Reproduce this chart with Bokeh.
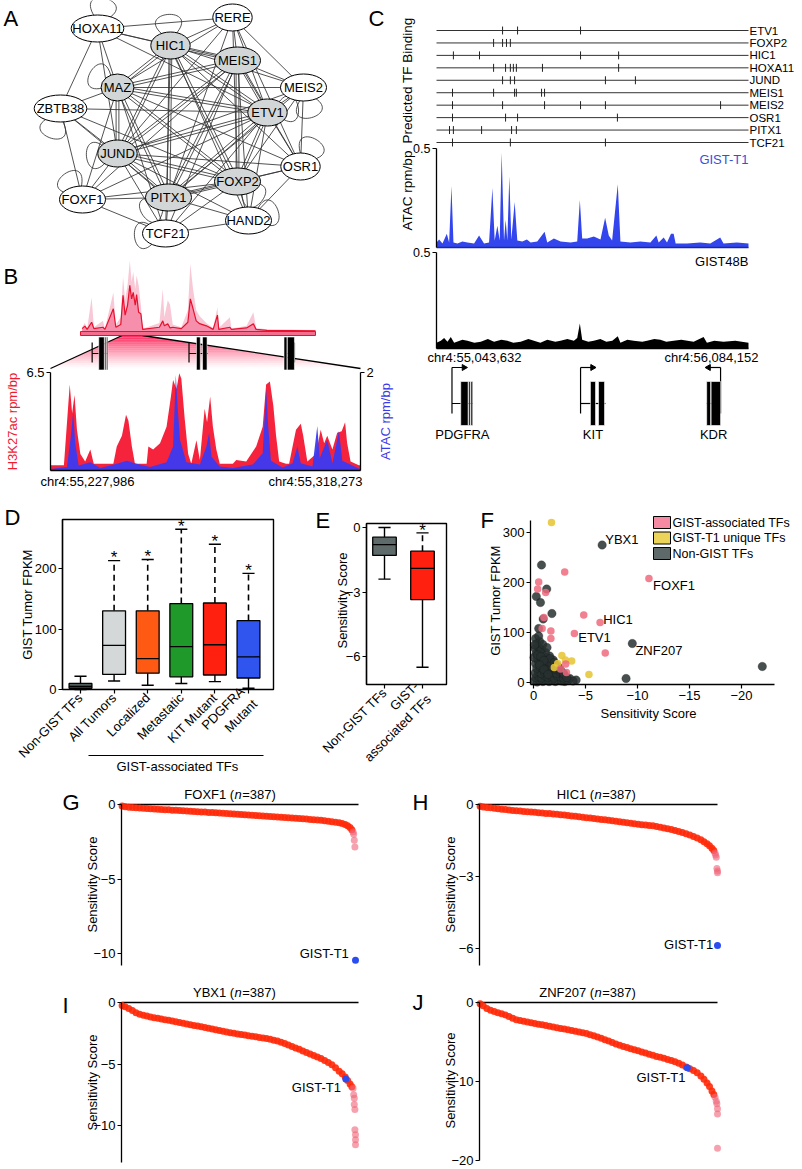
import numpy as np
from bokeh.plotting import figure
from bokeh.models import Range1d, LinearAxis, FixedTicker, Label
from bokeh.layouts import row, column
from bokeh.embed import file_html
from bokeh.resources import INLINE
from bokeh.core.properties import value

FONT = "Liberation Sans"

# ================= DATA =================
# --- A: TF network (layout positions of nodes) ---
node_names = ["HOXA11", "RERE", "HIC1", "MEIS1", "MAZ", "MEIS2", "ZBTB38", "ETV1",
              "JUND", "OSR1", "FOXP2", "FOXF1", "PITX1", "HAND2", "TCF21"]
node_x = [97, 232, 170, 237, 117, 303, 60, 267, 117, 300, 237, 82, 168, 248, 165]
node_y = [28, 17, 45, 60, 87, 87, 108, 112, 153, 166, 181, 199, 197, 220, 233]
node_core = [0, 0, 1, 1, 1, 0, 0, 1, 1, 0, 1, 0, 1, 0, 0]
edges = [
    ("HOXA11", "RERE"), ("HOXA11", "HIC1"), ("HOXA11", "MEIS1"), ("HOXA11", "MAZ"), ("HOXA11", "JUND"),
    ("HOXA11", "ZBTB38"), ("HOXA11", "ETV1"),
    ("RERE", "HIC1"), ("RERE", "MEIS1"), ("RERE", "MAZ"), ("RERE", "ETV1"), ("RERE", "PITX1"),
    ("RERE", "FOXP2"), ("RERE", "JUND"), ("RERE", "MEIS2"), ("RERE", "OSR1"),
    ("HIC1", "MEIS1"), ("HIC1", "MAZ"), ("HIC1", "ETV1"), ("HIC1", "JUND"), ("HIC1", "FOXP2"),
    ("HIC1", "PITX1"), ("HIC1", "MEIS2"), ("HIC1", "OSR1"), ("HIC1", "TCF21"), ("HIC1", "HAND2"),
    ("MEIS1", "MAZ"), ("MEIS1", "ETV1"), ("MEIS1", "JUND"), ("MEIS1", "FOXP2"), ("MEIS1", "PITX1"),
    ("MEIS1", "MEIS2"), ("MEIS1", "OSR1"), ("MEIS1", "FOXF1"), ("MEIS1", "TCF21"), ("MEIS1", "HAND2"),
    ("MAZ", "ETV1"), ("MAZ", "JUND"), ("MAZ", "FOXP2"), ("MAZ", "PITX1"), ("MAZ", "MEIS2"),
    ("MAZ", "ZBTB38"), ("MAZ", "OSR1"), ("MAZ", "TCF21"), ("MAZ", "FOXF1"),
    ("ETV1", "JUND"), ("ETV1", "FOXP2"), ("ETV1", "PITX1"), ("ETV1", "MEIS2"), ("ETV1", "OSR1"),
    ("ETV1", "FOXF1"), ("ETV1", "TCF21"), ("ETV1", "HAND2"), ("ETV1", "ZBTB38"),
    ("JUND", "FOXP2"), ("JUND", "PITX1"), ("JUND", "ZBTB38"), ("JUND", "OSR1"), ("JUND", "FOXF1"),
    ("JUND", "TCF21"), ("JUND", "HAND2"), ("JUND", "MEIS2"),
    ("FOXP2", "PITX1"), ("FOXP2", "OSR1"), ("FOXP2", "HAND2"), ("FOXP2", "TCF21"), ("FOXP2", "FOXF1"),
    ("FOXP2", "MEIS2"), ("FOXP2", "ZBTB38"),
    ("PITX1", "FOXF1"), ("PITX1", "TCF21"), ("PITX1", "HAND2"), ("PITX1", "OSR1"), ("PITX1", "ZBTB38"),
    ("PITX1", "MEIS2"),
    ("FOXF1", "TCF21"), ("TCF21", "HAND2"), ("MEIS2", "OSR1"), ("OSR1", "HAND2"), ("ZBTB38", "FOXF1"),
]
loop_nodes = ["HOXA11", "HIC1", "MAZ", "ZBTB38", "JUND", "FOXF1", "PITX1", "TCF21",
              "HAND2", "FOXP2", "OSR1", "ETV1", "MEIS2"]
loop_dirs = [75, 95, 150, 250, 185, 125, 215, 185, 20, 320, 60, 10, 285]

# --- genes (hg19, bp) ---
gene_names = ["PDGFRA", "KIT", "KDR"]
gene_tss = [55095264, 55524085, 55991000]
gene_end = [55164414, 55606881, 55944644]
gene_strand = [1, 1, -1]
gene_exons = [
    [(55124500, 55149000), (55151000, 55156500), (55158500, 55164400)],
    [(55557000, 55574000), (55584000, 55604000)],
    [(55944644, 55958000), (55959500, 55991000)],
]

# --- B: H3K27ac / ATAC ---
B_REGION = (55227986, 55318273)
overview_pos = [55.051, 55.063, 55.073, 55.093, 55.103, 55.143, 55.152, 55.189, 55.200, 55.222,
                55.232, 55.241, 55.252, 55.262, 55.270, 55.277, 55.286, 55.292, 55.301, 55.311,
                55.319, 55.393, 55.408, 55.415, 55.430, 55.440, 55.452, 55.490, 55.519, 55.530,
                55.542, 55.556, 55.571, 55.601, 55.631, 55.650, 55.656, 55.705, 55.712, 55.779,
                55.809, 55.821, 55.869, 56.084]
overview_mean = [0.04, 0.075, 0.03, 0.13, 0.04, 0.06, 0.03, 0.32, 0.06, 0.10,
                 0.51, 0.23, 0.37, 0.65, 0.46, 0.55, 0.37, 0.52, 0.27, 0.25,
                 0.03, 0.06, 0.15, 0.08, 0.11, 0.05, 0.06, 0.04, 0.13, 0.46,
                 0.32, 0.15, 0.11, 0.08, 0.03, 0.23, 0.03, 0.06, 0.03, 0.05,
                 0.11, 0.03, 0.015, 0.01]
overview_env = [0.06, 0.12, 0.04, 0.48, 0.06, 0.15, 0.04, 0.55, 0.10, 0.20,
                0.77, 0.45, 0.65, 1.00, 0.70, 0.84, 0.60, 0.79, 0.65, 0.37,
                0.04, 0.12, 0.60, 0.20, 0.44, 0.38, 0.10, 0.06, 0.30, 0.95,
                0.60, 0.30, 0.22, 0.12, 0.05, 0.34, 0.05, 0.20, 0.04, 0.08,
                0.27, 0.05, 0.03, 0.02]
h3k27ac_detail = [
    (0, 0.35), (3.9, 0.35), (4.3, 1.6), (5.6, 5.7), (6.3, 3.8), (7.0, 5.0), (7.7, 2.7), (8.7, 1.1),
    (10.1, 0.6), (11.6, 1.4), (12.6, 0.45), (18.3, 0.45), (19.3, 1.6), (20.8, 2.3), (22.0, 3.7),
    (22.7, 3.3), (23.7, 1.6), (24.6, 0.45), (28.0, 0.45), (28.5, 1.6), (29.9, 1.4), (31.9, 1.8),
    (33.8, 2.9), (35.0, 4.8), (35.7, 6.0), (36.7, 5.4), (37.5, 6.45), (38.1, 6.1), (39.1, 3.4),
    (40.1, 1.1), (41.0, 0.45), (42.5, 2.0), (43.5, 0.7), (44.9, 4.1), (45.6, 3.2), (46.5, 4.9),
    (47.3, 2.9), (48.3, 1.4), (49.3, 0.45), (53.1, 0.45), (54.1, 0.7), (57.0, 0.6), (59.9, 1.6),
    (61.8, 2.9), (62.8, 5.7), (63.9, 5.9), (64.9, 4.3), (65.7, 2.3), (66.6, 0.6), (68.6, 0.45),
    (69.5, 0.45), (70.5, 1.6), (71.5, 2.7), (72.9, 3.1), (73.6, 2.3), (74.8, 0.6), (77.3, 1.1),
    (78.7, 2.7), (79.7, 1.8), (80.6, 2.3), (82.1, 1.4), (83.5, 2.5), (84.8, 2.6), (85.8, 3.2),
    (86.4, 1.8), (87.4, 0.6), (89.8, 0.35), (90.3, 0.35)]
atac_detail = [
    (0, 0.03), (4.8, 0.07), (5.8, 0.63), (6.6, 1.18), (7.2, 0.56), (8.2, 0.10), (11.6, 0.17),
    (14.5, 0.05), (19.3, 0.14), (22.2, 0.20), (25.1, 0.14), (29.0, 0.07), (33.8, 0.17), (35.7, 0.49),
    (36.5, 1.95), (37.0, 1.32), (37.7, 0.63), (39.6, 0.17), (43.5, 0.12), (45.4, 0.49), (46.2, 0.77),
    (46.9, 0.28), (49.3, 0.08), (53.1, 0.05), (58.9, 0.12), (61.8, 0.35), (62.8, 1.67), (63.4, 0.91),
    (64.2, 0.20), (67.6, 0.06), (70.5, 0.15), (71.9, 0.49), (72.9, 0.15), (76.3, 0.08), (77.7, 0.91),
    (78.4, 0.25), (80.6, 0.63), (82.1, 0.15), (84.0, 0.80), (85.0, 0.20), (89.8, 0.04), (90.3, 0.03)]

# --- C: predicted TF binding & ATAC ---
C_REGION = (55043632, 56084152)
tf_names = ["ETV1", "FOXP2", "HIC1", "HOXA11", "JUND", "MEIS1", "MEIS2", "OSR1", "PITX1", "TCF21"]
tf_sites = [
    [55.264, 55.314, 55.524],
    [55.234, 55.264, 55.277, 55.290],
    [55.100, 55.187, 55.524, 55.651],
    [55.234, 55.274, 55.290, 55.300, 55.310, 55.397, 55.651],
    [55.264, 55.290, 55.304, 55.607, 55.707],
    [55.097, 55.234, 55.304, 55.310, 55.394, 55.404],
    [55.097, 55.264, 55.404, 55.524, 55.607, 55.991],
    [55.097, 55.274, 55.314, 55.647],
    [55.087, 55.100, 55.194, 55.294, 55.310],
    [55.097, 55.290, 55.607],
]
gist_t1_atac = [
    (55.0436, 0.025), (55.0525, 0.04), (55.0636, 0.02), (55.0780, 0.07), (55.0858, 0.025),
    (55.0935, 0.31), (55.1002, 0.025), (55.1135, 0.02), (55.1300, 0.03), (55.1468, 0.025),
    (55.1690, 0.02), (55.1856, 0.06), (55.2022, 0.02), (55.2189, 0.025), (55.2300, 0.30),
    (55.2377, 0.035), (55.2466, 0.11), (55.2544, 0.035), (55.2610, 0.48), (55.2688, 0.035),
    (55.2743, 0.14), (55.2799, 0.035), (55.2865, 0.36), (55.2932, 0.04), (55.3043, 0.23),
    (55.3132, 0.035), (55.3298, 0.03), (55.3450, 0.04), (55.3575, 0.025), (55.3797, 0.03),
    (55.4041, 0.08), (55.4130, 0.025), (55.4352, 0.045), (55.4574, 0.03), (55.4907, 0.025),
    (55.5129, 0.03), (55.5217, 0.24), (55.5295, 0.045), (55.5461, 0.045), (55.5683, 0.055),
    (55.5905, 0.04), (55.6060, 0.15), (55.6182, 0.06), (55.6293, 0.035), (55.6482, 0.32),
    (55.6570, 0.03), (55.6903, 0.025), (55.7236, 0.03), (55.7569, 0.025), (55.7769, 0.06),
    (55.7846, 0.025), (55.8013, 0.05), (55.8124, 0.025), (55.8257, 0.07), (55.8345, 0.07),
    (55.8412, 0.02), (55.8789, 0.02), (55.9233, 0.025), (55.9566, 0.02), (55.9898, 0.05),
    (56.0009, 0.02), (56.0453, 0.025), (56.0841, 0.02)]
gist48b_atac = [
    (55.0436, 0.03), (55.0580, 0.04), (55.0691, 0.055), (55.0802, 0.035), (55.0913, 0.06),
    (55.1024, 0.03), (55.1300, 0.045), (55.1468, 0.04), (55.1700, 0.03), (55.1912, 0.035),
    (55.2150, 0.05), (55.2356, 0.035), (55.2600, 0.045), (55.2800, 0.04), (55.3000, 0.03),
    (55.3243, 0.035), (55.3500, 0.05), (55.3687, 0.04), (55.3900, 0.03), (55.4131, 0.045),
    (55.4400, 0.035), (55.4574, 0.04), (55.4800, 0.05), (55.5018, 0.04), (55.5129, 0.055),
    (55.5217, 0.13), (55.5295, 0.045), (55.5500, 0.035), (55.5683, 0.04), (55.5900, 0.05),
    (55.6100, 0.035), (55.6300, 0.04), (55.6482, 0.064), (55.6570, 0.03), (55.6800, 0.045),
    (55.7014, 0.04), (55.7300, 0.035), (55.7458, 0.04), (55.7700, 0.05), (55.7902, 0.045),
    (55.8100, 0.035), (55.8346, 0.04), (55.8600, 0.045), (55.9012, 0.035), (55.9344, 0.06),
    (55.9455, 0.03), (55.9700, 0.04), (56.0009, 0.035), (56.0400, 0.04), (56.0841, 0.03)]

# --- D: expression box plots (FPKM) ---
d_cats = ["Non-GIST TFs", "All Tumors", "Localized", "Metastatic", "KIT Mutant", "PDGFRA\nMutant"]
d_q1 = [2, 25, 27, 21, 24, 19]
d_med = [5, 73, 51, 71, 74, 54]
d_q3 = [10, 130, 130, 142, 143, 114]
d_lo = [0, 14, 7, 10, 13, 2]
d_hi = [22, 213, 215, 265, 240, 192]
d_colors = ["#4f5a5a", "#d4d8d8", "#ff5a14", "#1f9a2a", "#ff2010", "#2f55ee"]
d_signif = [0, 1, 1, 1, 1, 1]

# --- E: sensitivity box plots ---
e_cats = ["Non-GIST TFs", "GIST-\nassociated TFs"]
e_q1 = [-1.3, -3.35]
e_med = [-0.8, -1.9]
e_q3 = [-0.45, -1.1]
e_lo = [-2.4, -6.5]
e_hi = [0.0, -0.25]
e_colors = ["#5f6b6b", "#ff2010"]
e_signif = [0, 1]

# --- F: scatter ---
f_assoc_x = [-0.5, -0.4, -1.17, -3.0, -1.0, -1.67, -1.67, -4.83, -6.4, -3.93, -11.1, -6.9, -3.1, -3.17, -2.6, -0.83]
f_assoc_y = [201, 187, 180, 221, 130, 103, 88, 135, 120, 98, 208, 59, 37, 20, 27, 108]
f_unique_x = [-1.73, -2.73, -3.67, -3.07, -5.33, -2.33, -2.0]
f_unique_y = [320, 54, 43, 45, 16, 38, 30]
f_non_x = [-6.6, -0.77, -1.27, -0.27, -0.67, -1.77, -0.93, -0.5, -9.5, -22.0, -8.9, -4.1,
           -0.1, -0.35, -0.6, -0.9, -1.2, -1.5, -1.8, -2.1, -2.4, -2.7, -3.0, -3.3,
           -0.2, -0.5, -0.8, -1.1, -1.4, -1.7, -2.0, -2.3, -2.6, -2.9,
           -0.15, -0.45, -0.75, -1.05, -1.35, -1.65, -1.95, -2.25, -2.55,
           -0.3, -0.6, -0.9, -1.2, -1.5, -1.8, -2.1,
           -0.2, -0.5, -0.8, -1.1, -1.4, -1.7,
           -0.35, -0.65, -0.95, -1.25, -1.55,
           -0.25, -0.55, -0.85, -1.15,
           -0.15, -0.45, -0.75, -0.3, -0.6, -0.9, -0.2, -0.5,
           -3.5, -3.8, -2.9, -0.05, -0.1, -1.9, -2.4, -1.3,
           -1.6, -2.0, -2.3, -2.6, -2.9, -3.2, -0.4, -0.7, -1.0, -0.6, -1.0, -1.4]
f_non_y = [275, 235, 187, 172, 160, 138, 127, 108, 78, 32, 8, 5,
           3, 1, 4, 2, 5, 2, 4, 2, 5, 3, 2, 4,
           10, 12, 9, 13, 10, 12, 9, 13, 11, 9,
           19, 22, 18, 21, 19, 23, 20, 18, 21,
           29, 31, 28, 32, 29, 31, 27,
           38, 41, 37, 40, 42, 39,
           48, 51, 47, 50, 53,
           58, 61, 57, 60,
           68, 71, 66, 78, 82, 76, 88, 93,
           8, 3, 17, 50, 75, 45, 30, 70,
           48, 40, 33, 25, 18, 10, 55, 52, 44, 35, 26, 16]
f_names = ["YBX1", "FOXF1", "HIC1", "ETV1", "ZNF207"]
f_name_x = [-6.9, -11.5, -6.7, -4.3, -9.8]
f_name_y = [287, 195, 127, 91, 64]
legend_labels = ["GIST-associated TFs", "GIST-T1 unique TFs", "Non-GIST TFs"]
legend_colors = ["#f68aa2", "#ecd45a", "#5e6a6a"]

# --- G-J: sorted sensitivity scores across 387 cell lines ---
rank_samples = [1, 6, 12, 18, 24, 30, 36, 42, 48, 54, 60, 66, 72, 78, 84, 90, 96, 102, 108, 114,
                120, 126, 132, 138, 144, 150, 156, 162, 168, 174, 180, 186, 192, 198, 204, 210, 216,
                222, 228, 234, 240, 246, 252, 258, 264, 270, 276, 282, 288, 294, 300, 306, 312, 318,
                324, 330, 336, 342, 348, 354, 360, 365, 370, 374, 378, 381]
foxf1_scores = [-0.10, -0.15, -0.18, -0.20, -0.22, -0.24, -0.26, -0.27, -0.29, -0.30, -0.32, -0.33,
                -0.35, -0.36, -0.38, -0.39, -0.41, -0.42, -0.44, -0.45, -0.47, -0.48, -0.50, -0.51,
                -0.53, -0.54, -0.56, -0.57, -0.59, -0.61, -0.62, -0.64, -0.66, -0.67, -0.69, -0.71,
                -0.72, -0.74, -0.76, -0.77, -0.79, -0.80, -0.82, -0.84, -0.85, -0.87, -0.89, -0.90,
                -0.92, -0.94, -0.96, -0.98, -1.00, -1.02, -1.04, -1.06, -1.09, -1.12, -1.15, -1.19,
                -1.23, -1.28, -1.35, -1.43, -1.55, -1.70]
hic1_scores = [-0.07, -0.10, -0.12, -0.14, -0.16, -0.18, -0.20, -0.21, -0.23, -0.25, -0.26, -0.27,
               -0.29, -0.30, -0.31, -0.32, -0.34, -0.35, -0.37, -0.38, -0.40, -0.41, -0.43, -0.44,
               -0.46, -0.48, -0.49, -0.51, -0.53, -0.55, -0.56, -0.58, -0.60, -0.62, -0.64, -0.66,
               -0.68, -0.70, -0.72, -0.74, -0.76, -0.78, -0.80, -0.82, -0.84, -0.85, -0.87, -0.89,
               -0.92, -0.95, -0.98, -1.01, -1.04, -1.08, -1.12, -1.17, -1.22, -1.27, -1.33, -1.40,
               -1.47, -1.55, -1.64, -1.72, -1.82, -1.92]
ybx1_scores = [-0.25, -0.35, -0.48, -0.66, -0.84, -0.95, -1.03, -1.10, -1.17, -1.23, -1.28, -1.34,
               -1.40, -1.45, -1.51, -1.56, -1.62, -1.68, -1.74, -1.80, -1.86, -1.92, -1.98, -2.04,
               -2.10, -2.16, -2.22, -2.28, -2.34, -2.40, -2.46, -2.51, -2.56, -2.61, -2.65, -2.70,
               -2.74, -2.79, -2.84, -2.89, -2.93, -2.99, -3.06, -3.14, -3.23, -3.34, -3.45, -3.57,
               -3.69, -3.81, -3.94, -4.06, -4.18, -4.30, -4.43, -4.56, -4.71, -4.87, -5.07, -5.31,
               -5.58, -5.80, -6.05, -6.35, -6.62, -6.85]
znf207_scores = [-0.15, -0.40, -0.75, -0.98, -1.15, -1.30, -1.42, -1.58, -1.78, -1.98, -2.17, -2.28,
                 -2.38, -2.47, -2.56, -2.65, -2.74, -2.83, -2.92, -3.01, -3.10, -3.19, -3.28, -3.37,
                 -3.46, -3.55, -3.64, -3.73, -3.83, -3.93, -4.08, -4.22, -4.37, -4.52, -4.70, -4.88,
                 -5.07, -5.26, -5.42, -5.56, -5.70, -5.84, -5.98, -6.12, -6.26, -6.40, -6.54, -6.68,
                 -6.82, -6.94, -7.07, -7.20, -7.35, -7.51, -7.68, -7.90, -8.15, -8.40, -8.62, -8.90,
                 -9.29, -9.70, -10.20, -10.62, -11.20, -11.65]
foxf1_tail_r = [383, 384, 385, 386]
foxf1_tail_v = [-1.85, -2.0, -2.4, -2.85]
hic1_tail_r = [383, 384, 385, 386, 387, 387]
hic1_tail_v = [-2.02, -2.10, -2.20, -2.67, -2.77, -2.84]
ybx1_tail_r = [383, 384, 385, 385, 386, 386, 387, 387, 387]
ybx1_tail_v = [-6.97, -7.5, -7.78, -8.3, -8.7, -10.35, -10.75, -11.16, -11.57]
znf207_tail_r = [383, 385, 386, 387, 387, 387]
znf207_tail_v = [-12.0, -12.5, -12.83, -13.46, -14.1, -18.46]
gist_rank = {"FOXF1": 387, "HIC1": 387, "YBX1": 371, "ZNF207": 338}
gist_score = {"FOXF1": -10.45, "HIC1": -5.87, "YBX1": -6.22, "ZNF207": -8.25}
N_LINES = 387


# ================= HELPERS =================
class PxMap:
    """linear map between data values and pixel positions inside a figure"""
    def __init__(self, v0, v1, p0, p1):
        self.k = (v1 - v0) / (p1 - p0)
        self.c = v0 - p0 * self.k

    def v(self, px):
        return self.c + px * self.k

    def px(self, val):
        return (val - self.c) / self.k


def xr(m, W):
    return Range1d(m.v(0), m.v(W))


def yr(m, H):
    return Range1d(m.v(H), m.v(0))


def mk(W, H, mx, my):
    p = figure(width=W, height=H, x_range=xr(mx, W), y_range=yr(my, H), min_border=0,
               x_axis_location=None, y_axis_location=None, output_backend="svg",
               toolbar_location=None)
    p.outline_line_color = None
    p.background_fill_color = "white"
    p.border_fill_color = "white"
    p.xgrid.visible = False
    p.ygrid.visible = False
    return p


def style_axis(ax, size="13px"):
    ax.major_label_text_font = FONT
    ax.major_label_text_font_size = size
    ax.major_label_text_color = "black"
    ax.minor_tick_line_color = None
    ax.major_tick_in = 0
    ax.major_tick_out = 4
    ax.major_label_standoff = 2
    ax.axis_line_color = "black"
    ax.axis_line_width = 1.3
    ax.major_tick_line_color = "black"
    ax.major_tick_line_width = 1.2


def add_axis(p, side, loc, ticks, bounds=None, size="13px", **kw):
    ax = LinearAxis(ticker=FixedTicker(ticks=ticks), fixed_location=loc, **kw)
    if bounds is not None:
        ax.bounds = (min(bounds), max(bounds))
    style_axis(ax, size)
    p.add_layout(ax, side)
    return ax


def label(p, x, y, txt, dx=0, dy=0, align="left", base="middle", size="13px", color="black",
          angle=0, style="normal", **kw):
    p.add_layout(Label(x=x, y=y, x_offset=dx, y_offset=dy, text=txt, text_font=FONT,
                       text_font_size=size, text_color=color, text_align=align,
                       text_baseline=base, angle=angle, text_font_style=style, **kw))


def letter(p, mx, my, txt, px, py):
    label(p, mx.v(px), my.v(py), txt, align="left", base="top", size="22px")


def gene_models(p, y_body, half_h, tick_lo, tick_hi, arrow=None, **kw):
    for tss, end, strand, exons in zip(gene_tss, gene_end, gene_strand, gene_exons):
        a, b = min(tss, end) / 1e6, max(tss, end) / 1e6
        p.segment(x0=[a], y0=[y_body], x1=[b], y1=[y_body], line_color="black", line_width=1.2, **kw)
        p.segment(x0=[tss / 1e6], y0=[tick_lo], x1=[tss / 1e6], y1=[tick_hi], line_color="black",
                  line_width=1.2, **kw)
        p.quad(left=[e[0] / 1e6 for e in exons], right=[e[1] / 1e6 for e in exons],
               bottom=[y_body - half_h] * len(exons), top=[y_body + half_h] * len(exons),
               fill_color="black", line_color="white", line_width=0.6, **kw)
        if arrow is not None:
            alen = arrow * strand
            p.segment(x0=[tss / 1e6], y0=[tick_hi], x1=[tss / 1e6 + alen], y1=[tick_hi],
                      line_color="black", line_width=1.2, **kw)
            p.scatter(x=[tss / 1e6 + alen], y=[tick_hi], marker="triangle", size=6,
                      angle=-np.pi / 2 * strand, fill_color="black", line_color="black", **kw)


B0, B1 = B_REGION[0] / 1e6, B_REGION[1] / 1e6
C0, C1 = C_REGION[0] / 1e6, C_REGION[1] / 1e6

# ================= PANEL A =================
WA, HA = 394, 254
mAx, mAy = PxMap(0, WA, 0, WA), PxMap(0, HA, 0, HA)
pA = mk(WA, HA, mAx, mAy)
idx = {n: i for i, n in enumerate(node_names)}
sx0, sy0, sx1, sy1 = [], [], [], []
for a, b in edges:
    ia, ib = idx[a], idx[b]
    x0, y0, x1, y1 = node_x[ia], node_y[ia], node_x[ib], node_y[ib]
    if node_core[ia] and node_core[ib]:
        L = np.hypot(x1 - x0, y1 - y0)
        nx, ny = -(y1 - y0) / L * 1.4, (x1 - x0) / L * 1.4
        for s in (1, -1):
            sx0.append(x0 + s * nx); sy0.append(y0 + s * ny)
            sx1.append(x1 + s * nx); sy1.append(y1 + s * ny)
    else:
        sx0.append(x0); sy0.append(y0); sx1.append(x1); sy1.append(y1)
pA.segment(x0=sx0, y0=sy0, x1=sx1, y1=sy1, line_color="#333333", line_width=0.85)
bx0, by0, bx1, by1, bcx0, bcy0, bcx1, bcy1 = [], [], [], [], [], [], [], []
for n, ang in zip(loop_nodes, loop_dirs):
    i = idx[n]
    cx, cy = node_x[i], node_y[i]
    t = np.radians(ang)

    def pt(th, r):
        return cx + r * np.cos(th), cy - r * np.sin(th)
    p0, p1 = pt(t - 0.5, 12), pt(t + 0.5, 12)
    c0, c1 = pt(t - 0.75, 52), pt(t + 0.75, 52)
    bx0.append(p0[0]); by0.append(p0[1]); bx1.append(p1[0]); by1.append(p1[1])
    bcx0.append(c0[0]); bcy0.append(c0[1]); bcx1.append(c1[0]); bcy1.append(c1[1])
pA.bezier(x0=bx0, y0=by0, x1=bx1, y1=by1, cx0=bcx0, cy0=bcy0, cx1=bcx1, cy1=bcy1,
          line_color="#333333", line_width=0.85)
pA.ellipse(x=node_x, y=node_y, width=[6.6 * len(n) + 13 for n in node_names], height=27,
           fill_color=["#d3d6d6" if c else "white" for c in node_core], line_color="black",
           line_width=1)
pA.text(x=node_x, y=node_y, text=node_names, text_align="center", text_baseline="middle",
        text_font=value(FONT), text_font_size="13px", text_color="black")
letter(pA, mAx, mAy, "A", 3, 5)
letter(pA, mAx, mAy, "C", 368, 5)

# ================= PANEL B =================
WB, HB = 394, 236
mBx = PxMap(B0, B1, 50, 360)          # detail window
mBy = PxMap(0, 6.5, 216, 118)         # H3K27ac rpm/bp
mBov = PxMap(C0, C1, 80, 315)         # overview (same locus as C)
mBovy = PxMap(0, 1, 77, 6)            # overview relative signal
mBat = PxMap(0, 2, 216, 118)          # ATAC rpm/bp
pB = mk(WB, HB, mBx, mBy)
pB.extra_x_ranges = {"ov": xr(mBov, WB)}
pB.extra_y_ranges = {"ovy": yr(mBovy, HB), "atac": yr(mBat, HB)}

# zoom trapezoid with gradient
T_TOP, T_BOT = mBy.v(81), mBy.v(114)
xl_top = mBx.v(mBov.px(B0))
xr_top = mBx.v(mBov.px(B1))
NS = 18
pxs, pys, palpha = [], [], []
for k in range(NS):
    t0, t1 = k / NS, (k + 1) / NS
    ya, yb = T_TOP - t0 * (T_TOP - T_BOT), T_TOP - t1 * (T_TOP - T_BOT)
    la, lb = xl_top + t0 * (B0 - xl_top), xl_top + t1 * (B0 - xl_top)
    ra, rb = xr_top + t0 * (B1 - xr_top), xr_top + t1 * (B1 - xr_top)
    pxs.append([la, ra, rb, lb]); pys.append([ya, ya, yb, yb])
    palpha.append(0.95 * (1 - (k + 0.5) / NS) ** 1.2)
pB.patches(xs=pxs, ys=pys, fill_color="#ff1f55", fill_alpha=palpha, line_color=None)
pB.line(x=[xl_top, B0], y=[T_TOP, T_BOT], line_color="black", line_width=1.3)
pB.line(x=[xr_top, B1], y=[T_TOP, T_BOT], line_color="black", line_width=1.3)

# overview track
pB.varea(x=overview_pos, y1=0, y2=overview_env, fill_color="#f9c8d6", x_range_name="ov",
         y_range_name="ovy")
pB.varea(x=overview_pos, y1=0, y2=overview_mean, fill_color="#f58fab", x_range_name="ov",
         y_range_name="ovy")
pB.line(x=overview_pos, y=overview_mean, line_color="#e8102c", line_width=1.2, x_range_name="ov",
        y_range_name="ovy")
pB.quad(left=[C0], right=[C1], bottom=[mBovy.v(81)], top=[0], fill_color="#f56d8c",
        line_color="#e8102c", line_width=1, x_range_name="ov", y_range_name="ovy")
gene_models(pB, mBy.v(99), (mBy.v(83) - mBy.v(116)) / 2, mBy.v(108), mBy.v(88), x_range_name="ov")

# detail
pB.varea(x=[B0 + d[0] / 1000 for d in h3k27ac_detail], y1=0, y2=[d[1] for d in h3k27ac_detail],
         fill_color="#f6233d")
pB.varea(x=[B0 + d[0] / 1000 for d in atac_detail], y1=0, y2=[d[1] for d in atac_detail],
         fill_color="#3a3af2", fill_alpha=0.95, y_range_name="atac")
add_axis(pB, "left", B0, [6.5], bounds=(0, 6.5))
add_axis(pB, "right", B1, [2], bounds=(0, 2), y_range_name="atac")
pB.segment(x0=[B0], y0=[0], x1=[B1], y1=[0], line_color="black", line_width=1.5)
label(pB, mBx.v(12), 3.25, "H3K27ac rpm/bp", align="center", color="#ee1c2e", angle=np.pi / 2)
label(pB, mBx.v(385), 3.25, "ATAC rpm/bp", align="center", color="#3a3ae8", angle=np.pi / 2)
label(pB, mBx.v(40), mBy.v(219), "chr4:55,227,986", align="left", base="top")
label(pB, mBx.v(362), mBy.v(219), "chr4:55,318,273", align="right", base="top")
letter(pB, mBx, mBy, "B", 3, 9)

# ================= PANEL C =================
WC, HC = 408, 490
mCx = PxMap(C0, C1, 42, 354)
mCy = PxMap(0, 10, 403, 393)          # gene model units (px-like)
mCtf = PxMap(0, 9, 30, 142)           # TF rows
mCt1 = PxMap(0, 0.5, 247, 148)        # GIST-T1 ATAC
mCb = PxMap(0, 0.5, 348, 252)         # GIST48B ATAC
pC = mk(WC, HC, mCx, mCy)
pC.extra_y_ranges = {"tf": yr(mCtf, HC), "t1": yr(mCt1, HC), "b48": yr(mCb, HC)}
rows = list(range(len(tf_names)))
pC.segment(x0=[C0] * len(rows), y0=rows, x1=[C1] * len(rows), y1=rows, line_color="#333333",
           line_width=1, y_range_name="tf")
tx, ty = [], []
for r, sites in zip(rows, tf_sites):
    for s in sites:
        tx.append(s); ty.append(r)
pC.segment(x0=tx, y0=[t - 0.32 for t in ty], x1=tx, y1=[t + 0.32 for t in ty],
           line_color="#222222", line_width=1, y_range_name="tf")
pC.text(x=[C1] * len(rows), y=rows, text=tf_names, x_offset=1, text_align="left",
        text_baseline="middle", text_font=value(FONT), text_font_size="11.5px", text_color="black",
        y_range_name="tf")
label(pC, mCx.v(13), mCy.v(80), "Predicted TF Binding", align="center", size="13.5px",
      angle=np.pi / 2)

pC.varea(x=[d[0] for d in gist_t1_atac], y1=0, y2=[d[1] for d in gist_t1_atac],
         fill_color="#3346ee", y_range_name="t1")
pC.segment(x0=[C0], y0=[0], x1=[C1], y1=[0], line_color="#1a2a9a", line_width=1.3,
           y_range_name="t1")
add_axis(pC, "left", C0, [0.5], bounds=(0, 0.5), size="12.5px", y_range_name="t1")
label(pC, C1, 0.5, "GIST-T1", dy=-3, align="right", base="top", color="#3a4fd8",
      y_range_name="t1")
label(pC, mCx.v(13), mCy.v(190), "ATAC rpm/bp", align="center", size="13.5px", angle=np.pi / 2)

pC.varea(x=[d[0] for d in gist48b_atac], y1=0, y2=[d[1] for d in gist48b_atac],
         fill_color="black", y_range_name="b48")
pC.segment(x0=[C0], y0=[0], x1=[C1], y1=[0], line_color="black", line_width=1.3,
           y_range_name="b48")
add_axis(pC, "left", C0, [0.5], bounds=(0, 0.5), size="12.5px", y_range_name="b48")
label(pC, C1, 0.5, "GIST48B", dy=-1, align="right", base="top", y_range_name="b48")

gene_models(pC, 0, 22, -10, 36, arrow=0.040)
pC.text(x=[(t + e) / 2e6 for t, e in zip(gene_tss, gene_end)], y=[-31] * 3, text=gene_names,
        text_align="center", text_baseline="middle", text_font=value(FONT),
        text_font_size="13px", text_color="black")
label(pC, mCx.v(33), 46, "chr4:55,043,632", align="left")
label(pC, mCx.v(364), 46, "chr4:56,084,152", align="right")


# ================= BOX PLOT HELPER =================
def boxes(p, xs, q1, med, q3, lo, hi, colors, signif, bw, cap, star_dy):
    p.segment(x0=xs, y0=lo, x1=xs, y1=q1, line_color="black", line_width=1.4)
    dash_i = [i for i, s in enumerate(signif) if s]
    sol_i = [i for i, s in enumerate(signif) if not s]
    p.segment(x0=[xs[i] for i in dash_i], y0=[q3[i] for i in dash_i], x1=[xs[i] for i in dash_i],
              y1=[hi[i] for i in dash_i], line_color="black", line_width=1.6, line_dash="6 4")
    p.segment(x0=[xs[i] for i in sol_i], y0=[q3[i] for i in sol_i], x1=[xs[i] for i in sol_i],
              y1=[hi[i] for i in sol_i], line_color="black", line_width=1.4)
    p.segment(x0=[x - cap for x in xs], y0=hi, x1=[x + cap for x in xs], y1=hi, line_color="black",
              line_width=1.4)
    p.segment(x0=[x - cap for x in xs], y0=lo, x1=[x + cap for x in xs], y1=lo, line_color="black",
              line_width=1.4)
    p.quad(left=[x - bw for x in xs], right=[x + bw for x in xs], bottom=q1, top=q3,
           fill_color=colors, line_color="black", line_width=1.3)
    p.segment(x0=[x - bw for x in xs], y0=med, x1=[x + bw for x in xs], y1=med, line_color="black",
              line_width=1.3)
    p.text(x=[xs[i] for i in dash_i], y=[hi[i] for i in dash_i], text=["*"] * len(dash_i),
           y_offset=star_dy, text_align="center", text_baseline="middle", text_font=value(FONT),
           text_font_size="17px", text_color="black")


def frame_box(p, mx, my, l, r, t, b):
    p.quad(left=[mx.v(l)], right=[mx.v(r)], top=[my.v(t)], bottom=[my.v(b)], fill_color=None,
           line_color="black", line_width=1.4)


# ================= PANEL D =================
WD, HD = 290, 286
dx_pos = [i + 1 for i in range(len(d_cats))]
mDx, mDy = PxMap(1, 6, 80, 248), PxMap(0, 200, 199, 78)
pD = mk(WD, HD, mDx, mDy)
boxes(pD, dx_pos, d_q1, d_med, d_q3, d_lo, d_hi, d_colors, d_signif, 0.34, 0.18, -3)
frame_box(pD, mDx, mDy, 62, 273, 29, 199)
add_axis(pD, "left", mDx.v(62), [0, 100, 200], bounds=(0, mDy.v(29)))
axd = add_axis(pD, "below", 0, dx_pos, bounds=(mDx.v(62), mDx.v(273)))
axd.major_label_overrides = {x: c for x, c in zip(dx_pos, d_cats)}
axd.major_label_orientation = np.pi / 4
axd.axis_line_color = None
pD.segment(x0=[mDx.v(88)], y0=[mDy.v(265)], x1=[mDx.v(263)], y1=[mDy.v(265)], line_color="black",
           line_width=1)
label(pD, mDx.v(177), mDy.v(276), "GIST-associated TFs", align="center")
label(pD, mDx.v(27), mDy.v(114), "GIST Tumor FPKM", align="center", angle=np.pi / 2)
letter(pD, mDx, mDy, "D", 4, 14)

# ================= PANEL E =================
WE, HE = 170, 286
ex_pos = [i + 1 for i in range(len(e_cats))]
mEx, mEy = PxMap(1, 2, 94, 132), PxMap(0, -6, 37, 166)
pE = mk(WE, HE, mEx, mEy)
boxes(pE, ex_pos, e_q1, e_med, e_q3, e_lo, e_hi, e_colors, e_signif, 0.31, 0.16, -2)
frame_box(pE, mEx, mEy, 76, 156, 33, 194)
add_axis(pE, "left", mEx.v(76), [0, -3, -6], bounds=(mEy.v(194), mEy.v(33)))
axe = add_axis(pE, "below", mEy.v(194), ex_pos, bounds=(mEx.v(76), mEx.v(156)))
axe.major_label_overrides = {x: c for x, c in zip(ex_pos, e_cats)}
axe.major_label_orientation = np.pi / 4
axe.axis_line_color = None
label(pE, mEx.v(52), mEy.v(110), "Sensitivity Score", align="center", angle=np.pi / 2)
letter(pE, mEx, mEy, "E", 25, 17)

# ================= PANEL F =================
WF, HF = 342, 286
mFx, mFy = PxMap(0, -20, 73, 281), PxMap(0, 300, 192, 42)
pF = mk(WF, HF, mFx, mFy)
pF.scatter(x=f_non_x, y=f_non_y, size=8.5, fill_color="#283030", fill_alpha=0.85,
           line_color="#101414", line_alpha=0.5, line_width=0.5)
pF.scatter(x=f_unique_x, y=f_unique_y, size=7.5, fill_color="#e8c63c", fill_alpha=0.9, line_color=None)
pF.scatter(x=f_assoc_x, y=f_assoc_y, size=7.5, fill_color="#ef6a7e", fill_alpha=0.85, line_color=None)
pF.text(x=f_name_x, y=f_name_y, text=f_names, text_align="left", text_baseline="middle",
        text_font=value(FONT), text_font_size="13px", text_color="black")
add_axis(pF, "left", mFx.v(70), [0, 100, 200, 300], bounds=(mFy.v(194), 325))
add_axis(pF, "below", mFy.v(194), [0, -5, -10, -15, -20], bounds=(-23.2, mFx.v(70)))
label(pF, mFx.v(188), mFy.v(223), "Sensitivity Score", align="center")
label(pF, mFx.v(35), mFy.v(110), "GIST Tumor FPKM", align="center", angle=np.pi / 2)
for i, (lab, col) in enumerate(zip(legend_labels, legend_colors)):
    yc = 32 + 15.5 * i
    pF.quad(left=[mFx.v(193)], right=[mFx.v(210)], top=[mFy.v(yc - 6)], bottom=[mFy.v(yc + 6)],
            fill_color=col, line_color="black", line_width=1)
    label(pF, mFx.v(212), mFy.v(yc), lab, align="left", size="12.5px")
letter(pF, mFx, mFy, "F", 20, 17)


# ================= PANELS G-J =================
def waterfall(gene, scores, tail_r, tail_v, W, H, xp0, xp1, yp0, yv1, yp1, ybot, ticks, lab_xy,
              let, let_px, sens_px, line_end):
    mx = PxMap(0, N_LINES, xp0, xp1)
    my = PxMap(0, yv1, yp0, yp1)
    p = mk(W, H, mx, my)
    p.segment(x0=[0], y0=[0], x1=[mx.v(line_end)], y1=[0], line_color="black", line_width=1.3)
    p.scatter(x=rank_samples, y=scores, size=7, fill_color="#ff2a0a", fill_alpha=0.9,
              line_color=None)
    p.scatter(x=tail_r, y=tail_v, size=7, fill_color="#f06478", fill_alpha=0.6, line_color=None)
    p.scatter(x=[gist_rank[gene]], y=[gist_score[gene]], size=7, fill_color="#2a4cf0",
              line_color=None)
    add_axis(p, "left", 0, ticks, bounds=(my.v(ybot), 0))
    label(p, lab_xy[0], lab_xy[1], "GIST-T1", align="right")
    xc = 193
    label(p, xc, 0, gene + " (", dx=-4, dy=3, align="right", base="bottom")
    label(p, xc, 0, "n", dx=0, dy=3, align="center", base="bottom", style="italic")
    label(p, xc, 0, "=" + str(N_LINES) + ")", dx=4, dy=3, align="left", base="bottom")
    label(p, mx.v(sens_px[0]), my.v(sens_px[1]), "Sensitivity Score", align="center",
          angle=np.pi / 2)
    letter(p, mx, my, let, let_px[0], let_px[1])
    return p


pG = waterfall("FOXF1", foxf1_scores, foxf1_tail_r, foxf1_tail_v, 398, 192, 121, 355, 28, -10, 177,
               189, [0, -5, -10], (376, -10.0), "G", (62, 13), (92, 108), 358)
pH = waterfall("HIC1", hic1_scores, hic1_tail_r, hic1_tail_v, 404, 192, 81, 319, 28, -6, 172,
               189, [0, -3, -6], (380, -5.84), "H", (14, 13), (52, 108), 319)
pI = waterfall("YBX1", ybx1_scores, ybx1_tail_r, ybx1_tail_v, 398, 200, 121, 355, 34, -10, 157,
               194, [0, -5, -10], (363, -6.9), "I", (62, 24), (92, 114), 358)
pJ = waterfall("ZNF207", znf207_scores, znf207_tail_r, znf207_tail_v, 404, 200, 81, 319, 34, -20,
               192, 192, [0, -10, -20], (335, -9.5), "J", (14, 21), (52, 112), 319)

layout = column(
    row(column(pA, pB), pC),
    row(pD, pE, pF),
    row(pG, pH),
    row(pI, pJ),
)
open("out.html", "w").write(file_html(layout, INLINE))
